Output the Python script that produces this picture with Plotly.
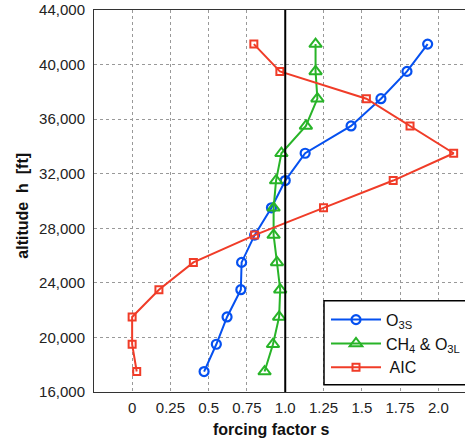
import plotly.graph_objects as go

altitude_ft = [17500, 19500, 21500, 23500, 25500, 27500, 29500, 31500, 33500, 35500, 37500, 39500, 41500]
o3s = [0.47, 0.55, 0.62, 0.71, 0.715, 0.80, 0.91, 1.00, 1.13, 1.43, 1.625, 1.795, 1.93]
ch4_o3l = [0.865, 0.92, 0.96, 0.967, 0.946, 0.924, 0.924, 0.94, 0.975, 1.135, 1.21, 1.198, 1.198]
aic = [0.03, 0.0, 0.0, 0.175, 0.40, 0.80, 1.25, 1.705, 2.10, 1.815, 1.53, 0.965, 0.795]

x_tickvals = [0, 0.25, 0.5, 0.75, 1.0, 1.25, 1.5, 1.75, 2.0]
x_ticktext = ["0", "0.25", "0.5", "0.75", "1.0", "1.25", "1.5", "1.75", "2.0"]
y_tickvals = [16000, 20000, 24000, 28000, 32000, 36000, 40000, 44000]
REF_S = 1.0

FONT = "Liberation Sans, Arial, Helvetica, sans-serif"
BLUE = "rgb(5,80,240)"
GREEN = "rgb(40,180,40)"
RED = "rgb(240,60,40)"

PL, PT, PB = 94, 10.3, 392.3
PW, PH = 465 - PL, PB - PT


def px_x(p):
    return (p - PL) / PW


def px_y(p):
    return (PB - p) / PH


fig = go.Figure()
fig.add_trace(go.Scatter(x=o3s, y=altitude_ft, mode="lines+markers", name="O<sub>3S</sub>",
                         line=dict(color=BLUE, width=2),
                         marker=dict(symbol="circle-open", size=9, color=BLUE, line=dict(width=2.2))))
fig.add_trace(go.Scatter(x=ch4_o3l, y=altitude_ft, mode="lines+markers", name="CH<sub>4</sub> & O<sub>3L</sub>",
                         line=dict(color=GREEN, width=2),
                         marker=dict(symbol="triangle-up-open", size=11, color=GREEN, line=dict(width=2))))
fig.add_trace(go.Scatter(x=aic, y=altitude_ft, mode="lines+markers", name=" AIC",
                         line=dict(color=RED, width=2),
                         marker=dict(symbol="square-open", size=7, color=RED, line=dict(width=2))))

fig.add_vline(x=REF_S, line=dict(color="black", width=2), layer="above")

# legend box (extends past the right edge of the figure, as in the reference)
fig.add_shape(type="rect", xref="paper", yref="paper",
              x0=px_x(324), x1=px_x(480), y0=px_y(385), y1=px_y(301),
              fillcolor="white", line=dict(color="black", width=1.5), layer="above")

fig.update_xaxes(range=[-0.249, 2.174], tickvals=x_tickvals, ticktext=x_ticktext,
                 showgrid=True, gridcolor="#999", griddash="dot", gridwidth=1,
                 showline=True, linecolor="#333", linewidth=1, mirror=True,
                 ticks="", ticklabelstandoff=2, zeroline=False,
                 tickfont=dict(size=15, color="#222", family=FONT))
fig.update_yaxes(range=[16000, 44000], tickvals=y_tickvals, tickformat=",",
                 showgrid=True, gridcolor="#999", griddash="dot", gridwidth=1,
                 showline=True, linecolor="#333", linewidth=1,
                 ticks="", ticklabelstandoff=5, zeroline=False,
                 tickfont=dict(size=15, color="#222", family=FONT))

fig.add_annotation(text="<b>forcing factor s</b>", xref="paper", yref="paper",
                   x=px_x(271), y=px_y(430), xanchor="center", yanchor="middle",
                   showarrow=False, font=dict(size=16, color="#111", family=FONT))
fig.add_annotation(text="<b>altitude  h  [ft]</b>", xref="paper", yref="paper",
                   x=px_x(23), y=px_y(206), xanchor="center", yanchor="middle",
                   textangle=-90, showarrow=False, font=dict(size=16, color="#111", family=FONT))

fig.update_layout(
    width=465, height=443,
    margin=dict(l=PL, r=0, t=10, b=51),
    plot_bgcolor="white", paper_bgcolor="white",
    font=dict(family=FONT, color="#222"),
    legend=dict(x=px_x(326), y=px_y(303), xanchor="left", yanchor="top",
                bgcolor="rgba(0,0,0,0)", borderwidth=0,
                font=dict(size=16, color="#111", family=FONT), itemwidth=50,
                tracegroupgap=0),
    showlegend=True,
)

fig.write_html("out.html")
